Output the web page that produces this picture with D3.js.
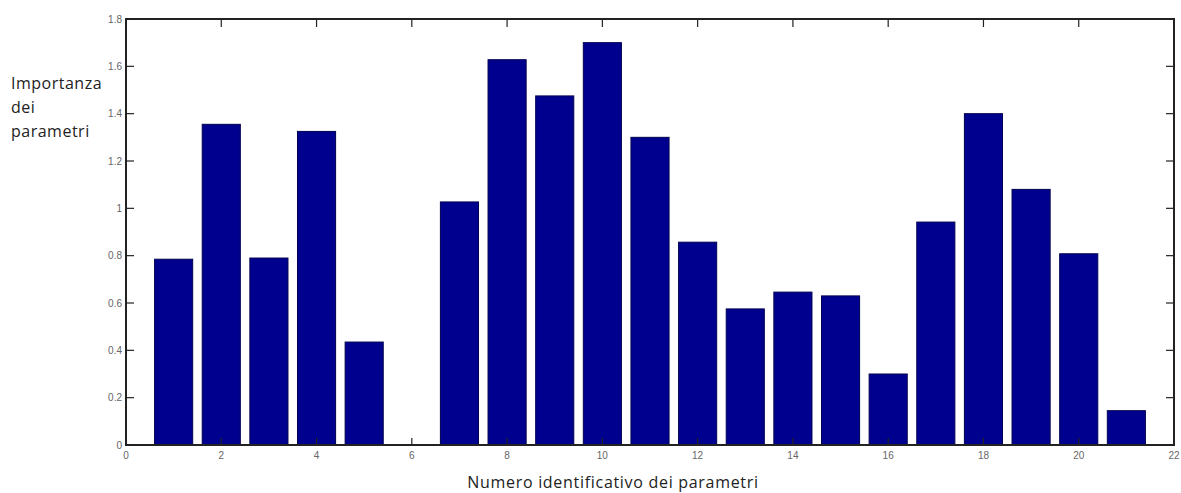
<!DOCTYPE html>
<html><head><meta charset="utf-8">
<script src="https://cdn.jsdelivr.net/npm/d3@7"></script>
<style>body{margin:0;background:#fff;} svg{display:block;}</style>
</head><body>
<svg id="c" width="1181" height="493"></svg>
<script>
const params = [1,2,3,4,5,6,7,8,9,10,11,12,13,14,15,16,17,18,19,20,21];
const importance = [0.785,1.355,0.79,1.325,0.435,0.0,1.027,1.628,1.475,1.70,1.30,0.857,0.575,0.646,0.63,0.30,0.942,1.40,1.08,0.808,0.145];
const xTicks = [0,2,4,6,8,10,12,14,16,18,20,22];
const yTicks = [0,0.2,0.4,0.6,0.8,1,1.2,1.4,1.6,1.8];
const yLabelLines = ["Importanza","dei","parametri"];
const xLabel = "Numero identificativo dei parametri";

const svg = d3.select("#c");
const L=126, R=1174, T=19, B=445;
const x = d3.scaleLinear().domain([0,22]).range([L,R]);
const y = d3.scaleLinear().domain([0,1.8]).range([B,T]);
const bw = 0.8;

svg.append("g").selectAll("rect").data(params).join("rect")
  .attr("x", (d)=>x(d-bw/2))
  .attr("width", (d)=>x(d+bw/2)-x(d-bw/2))
  .attr("y", (d,i)=>y(importance[i]))
  .attr("height", (d,i)=>B-y(importance[i]))
  .attr("fill","#00008f").attr("stroke","#000050").attr("stroke-width",1);

const tickLen = 5;
const axColor = "#222";
const g = svg.append("g");
g.append("rect").attr("x",L).attr("y",T).attr("width",R-L).attr("height",B-T)
  .attr("fill","none").attr("stroke",axColor).attr("stroke-width",2);
xTicks.forEach(t=>{
  g.append("line").attr("x1",x(t)).attr("x2",x(t)).attr("y1",B).attr("y2",B-tickLen-2).attr("stroke",axColor).attr("stroke-width",1.2);
  g.append("line").attr("x1",x(t)).attr("x2",x(t)).attr("y1",T).attr("y2",T+tickLen+3).attr("stroke",axColor).attr("stroke-width",1.2);
  g.append("text").attr("x",x(t)).attr("y",B+14).attr("text-anchor","middle")
    .attr("font-family","Arial, Liberation Sans, sans-serif").attr("font-size",10).attr("fill","#666").text(t);
});
yTicks.forEach(t=>{
  g.append("line").attr("x1",L).attr("x2",L+tickLen+3).attr("y1",y(t)).attr("y2",y(t)).attr("stroke",axColor).attr("stroke-width",1.2);
  g.append("line").attr("x1",R).attr("x2",R-tickLen-3).attr("y1",y(t)).attr("y2",y(t)).attr("stroke",axColor).attr("stroke-width",1.2);
  g.append("text").attr("x",L-4).attr("y",y(t)+3.5).attr("text-anchor","end")
    .attr("font-family","Arial, Liberation Sans, sans-serif").attr("font-size",10).attr("fill","#666").text(t);
});

svg.append("g").selectAll("text").data(yLabelLines).join("text")
  .attr("x",11).attr("y",(d,i)=>89+i*24)
  .attr("font-family","Open Sans, sans-serif").attr("font-size",16).attr("letter-spacing",0.5).attr("fill","#222").text(d=>d);
svg.append("text").attr("x",613).attr("y",488).attr("text-anchor","middle")
  .attr("font-family","Open Sans, sans-serif").attr("font-size",16).attr("letter-spacing",0.7).attr("fill","#222").text(xLabel);
</script>
</body></html>
